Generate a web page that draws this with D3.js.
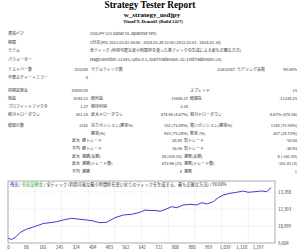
<!DOCTYPE html>
<html>
<head>
<meta charset="utf-8">
<script src="https://cdn.jsdelivr.net/npm/d3@7"></script>
<style>
  body { margin: 0; background: #fff; }
  svg { display: block; }
  text { font-family: "Noto Sans CJK JP", "Noto Sans", sans-serif; fill: #333; }
  .ttl { font-family: "Liberation Serif", "DejaVu Serif", serif; font-weight: bold; fill: #000; }
</style>
</head>
<body>
<div id="report"></div>
<script>
var svgWidth = 300;
var svgHeight = 251;

// ---- data ----
var reportTitle = "Strategy Tester Report";
var eaName = "w_strategy_usdjpy";
var serverName = "TitanFX-Demo01 (Build 1417)";

var infoLabels = ["通貨ペア", "期間", "モデル", "パラメーター"];
var infoValues = [
  "USDJPY (US Dollar vs Japanese Yen)",
  "5分足(M5) 2013.03.01 00:00 - 2024.03.29 22:50 (2013.03.01 - 2024.03.30)",
  "全ティック (利用可能な最小時間枠を使った各ティックの生成による最も正確な方法)",
  "MagicNumber=12345; Lots=0.1; StartTradeHour=22; EndTradeHour=24;"
];
var barsRow = ["テストバー数", "821280", "モデルティック数", "23412087", "モデリング品質", "90.00%"];
var errorRow = ["不整合チャートエラー", "0"];

var summaryRows = [
  ["初期証拠金", "10000.00", "", "", "スプレッド", "15"],
  ["純益", "4148.12", "総利益", "15486.37", "総損失", "-11338.25"],
  ["プロフィットファクタ", "1.37", "期待利得", "3.34", "", ""],
  ["絶対ドローダウン", "301.18", "最大ドローダウン", "474.06 (4.67%)", "相対ドローダウン", "4.67% (474.06)"]
];
var tradeRows = [
  ["総取引数", "1242", "売りポジション(勝率%)", "102 (73.08%)", "買いポジション(勝率%)", "1140 (75.50%)"],
  ["", "", "勝率(%)", "935 (75.28%)", "敗率 (%)", "307 (24.72%)"]
];
var streakRows = [
  ["最大", "勝トレード", "38.88", "負トレード", "-58.04"],
  ["平均", "勝トレード", "16.56", "負トレード", "-36.93"],
  ["最大", "連勝(金額)", "26 (435.03)", "連敗(金額)", "4 (-161.85)"],
  ["最大", "連勝(トレード数)", "473.96 (25)", "連敗(トレード数)", "-161.85 (4)"],
  ["平均", "連勝", "4", "連敗", "1"]
];

var chartTitleParts = ["残高", " / ", "有効証拠金", " / 全ティック (利用可能な最小時間枠を使い全てのティックを生成する、最も正確な方法) / 90.00%"];

var tradeNo = [0, 18, 34, 58, 90, 121, 145, 169, 201, 233, 265, 305, 345, 377, 409, 441, 473,
  513, 553, 593, 633, 657, 681, 705, 729, 753, 785, 809, 840, 873, 905, 929, 953, 984,
  1008, 1032, 1064, 1096, 1128, 1152, 1184, 1216, 1240, 1262];
var balance = [10000, 9890, 10055, 10465, 10750, 10915, 11056, 11204, 11270, 11351, 11491, 11630,
  11548, 11491, 11409, 11270, 11302, 11680, 11901, 11959, 12123, 12311, 12270, 12270, 12205,
  12352, 12582, 12500, 12722, 12779, 12722, 12910, 12804, 12992, 13320, 13542, 13681, 13763,
  13870, 13763, 13813, 13870, 13813, 14148];

var xTicks = [0, 86, 165, 245, 324, 404, 483, 562, 642, 721, 800, 880, 959, 1039, 1118, 1197];
var yTicks = [9604, 10999, 12393, 13788];

// ---- layout ----
var svg = d3.select("#report").append("svg")
  .attr("width", svgWidth)
  .attr("height", svgHeight);

svg.append("text").attr("class", "ttl").attr("x", 150).attr("y", 7.8)
  .attr("text-anchor", "middle").attr("font-size", 9.4).text(reportTitle);
svg.append("text").attr("class", "ttl").attr("x", 152).attr("y", 16.6)
  .attr("text-anchor", "middle").attr("font-size", 7).text(eaName);
svg.append("text").attr("class", "ttl").attr("x", 153).attr("y", 22.6)
  .attr("text-anchor", "middle").attr("font-size", 4.6).text(serverName);

var fs = 4;
var col = { l1: 8, v1: 88, l2: 91, v2: 188, l3: 190, v3: 297 };

function cell(txt, x, y, anchor) {
  if (!txt) return;
  svg.append("text")
    .attr("x", x).attr("y", y + 1.4)
    .attr("font-size", fs)
    .attr("text-anchor", anchor || "start")
    .text(txt);
}

infoLabels.forEach(function(d, i) {
  var y = 34 + i * 8.5;
  cell(d, col.l1, y);
  cell(infoValues[i], 90, y);
});

cell(barsRow[0], col.l1, 69.5);
cell(barsRow[1], col.v1, 69.5, "end");
cell(barsRow[2], col.l2, 69.5);
cell(barsRow[3], 235, 69.5, "end");
cell(barsRow[4], 237, 69.5);
cell(barsRow[5], col.v3, 69.5, "end");
cell(errorRow[0], col.l1, 78);
cell(errorRow[1], col.v1, 78, "end");

function sixCols(rows, top, step) {
  rows.forEach(function(r, i) {
    var y = top + i * step;
    cell(r[0], col.l1, y);
    cell(r[1], col.v1, y, "end");
    cell(r[2], col.l2, y);
    cell(r[3], col.v2, y, "end");
    cell(r[4], col.l3, y);
    cell(r[5], col.v3, y, "end");
  });
}
sixCols(summaryRows, 91, 8);
sixCols(tradeRows, 126, 7.5);

streakRows.forEach(function(r, i) {
  var y = 141 + i * 7.6;
  cell(r[0], 72, y);
  cell(r[1], 82, y);
  cell(r[2], 182, y, "end");
  cell(r[3], 184, y);
  cell(r[4], col.v3, y, "end");
});

// ---- balance chart ----
var chart = { left: 8, right: 275, top: 181, bottom: 243 };

var xScale = d3.scaleLinear()
  .domain([0, 1280])
  .range([chart.left, chart.right]);

var yScale = d3.scaleLinear()
  .domain([9604, 13788])
  .range([chart.bottom, 192]);

svg.append("rect")
  .attr("x", chart.left).attr("y", chart.top)
  .attr("width", chart.right - chart.left)
  .attr("height", chart.bottom - chart.top)
  .attr("fill", "#fff")
  .attr("stroke", "#9a9a9a")
  .attr("stroke-width", 0.8);

// dotted grid
var cw = (chart.right - chart.left) / 10;
svg.append("g").selectAll("line")
  .data(d3.range(1, 10))
  .enter().append("line")
  .attr("x1", d => chart.left + d * cw).attr("x2", d => chart.left + d * cw)
  .attr("y1", chart.top).attr("y2", chart.bottom)
  .attr("stroke", "#c8c8c8").attr("stroke-width", 0.5)
  .attr("stroke-dasharray", "1,1.5");

svg.append("g").selectAll("line")
  .data(yTicks.slice(1))
  .enter().append("line")
  .attr("x1", chart.left).attr("x2", chart.right)
  .attr("y1", d => yScale(d)).attr("y2", d => yScale(d))
  .attr("stroke", "#c8c8c8").attr("stroke-width", 0.5)
  .attr("stroke-dasharray", "1,1.5");

var title = svg.append("text")
  .attr("x", 10).attr("y", chart.top + 5)
  .attr("font-size", 4.2);
var titleColors = ["#2a2ad0", "#333", "#22aa22", "#333"];
chartTitleParts.forEach(function(t, i) {
  title.append("tspan").attr("fill", titleColors[i]).style("fill", titleColors[i]).text(t);
});

var line = d3.line()
  .x((d, i) => xScale(tradeNo[i]))
  .y(d => yScale(d));

svg.append("path")
  .datum(balance)
  .attr("d", line)
  .attr("fill", "none")
  .attr("stroke", "#3b3bd6")
  .attr("stroke-width", 1);

var xAxis = d3.axisBottom(xScale).tickValues(xTicks).tickSize(0).tickPadding(2.5);
var gx = svg.append("g")
  .attr("transform", `translate(0, ${chart.bottom})`)
  .call(xAxis);
gx.select(".domain").remove();
gx.selectAll("text").attr("font-size", 4.3).style("fill", "#333").attr("font-family", null);

var yAxis = d3.axisRight(yScale).tickValues(yTicks).tickSize(0).tickPadding(3);
var gy = svg.append("g")
  .attr("transform", `translate(${chart.right}, 0)`)
  .call(yAxis);
gy.select(".domain").remove();
gy.selectAll("text").attr("font-size", 4.3).style("fill", "#333").attr("font-family", null);
</script>
</body>
</html>
